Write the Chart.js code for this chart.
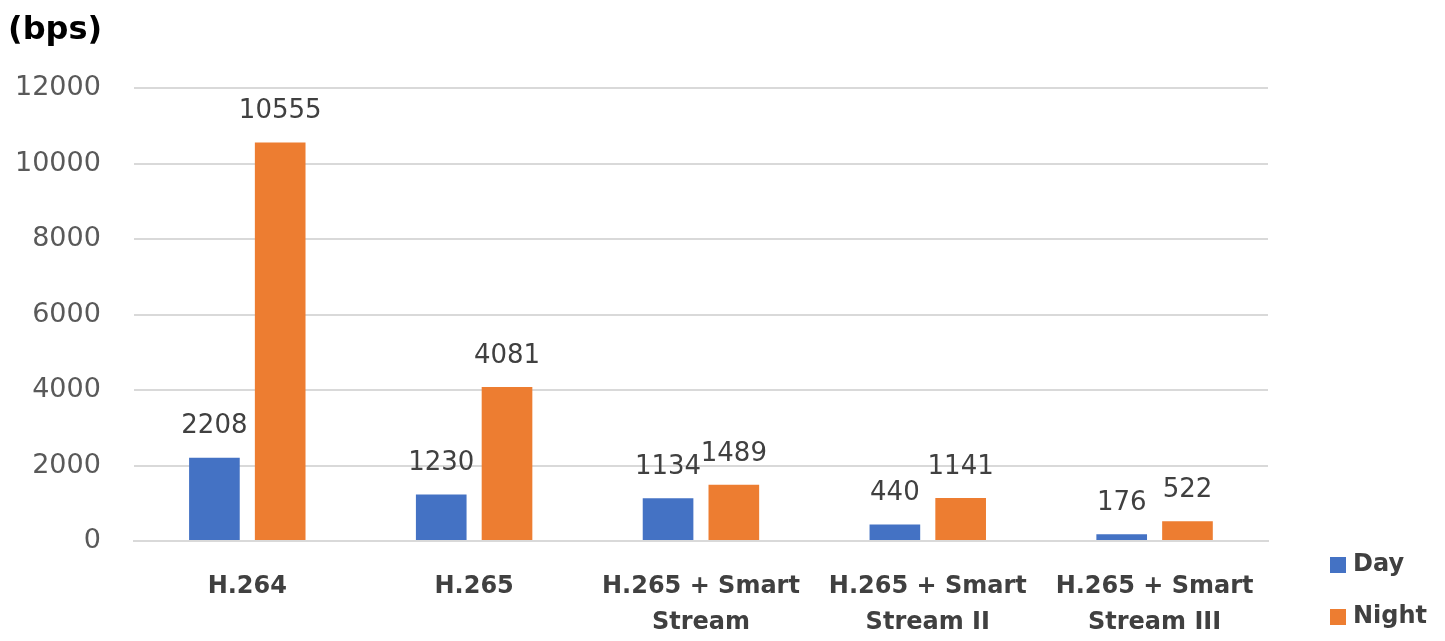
<!DOCTYPE html>
<html>
<head>
<meta charset="utf-8">
<script src="https://cdn.jsdelivr.net/npm/chart.js@4/dist/chart.umd.min.js"></script>
<style>
  html, body { margin: 0; padding: 0; background: #fff; }
  #wrap { width: 1445px; height: 641px; position: relative; }
</style>
</head>
<body>
<div id="wrap"><canvas id="bitrateChart"></canvas></div>
<script>
// bitrate of each codec, day vs night
const categories = ['H.264', 'H.265', ['H.265 + Smart', 'Stream'], ['H.265 + Smart', 'Stream II'], ['H.265 + Smart', 'Stream III']];
const dayValues = [2208, 1230, 1134, 440, 176];
const nightValues = [10555, 4081, 1489, 1141, 522];
const seriesNames = ['Day', 'Night'];
const unitLabel = '(bps)';
const yMin = 0, yMax = 12000, yStep = 2000;

const FONT = "'DejaVu Sans', sans-serif";

// value labels above each bar
const valueLabels = {
    id: 'valueLabels',
    afterDatasetsDraw(chart) {
        const ctx = chart.ctx;
        ctx.save();
        ctx.font = '26px ' + FONT;
        ctx.fillStyle = '#404040';
        ctx.textAlign = 'center';
        ctx.textBaseline = 'bottom';
        chart.data.datasets.forEach((ds, i) => {
            chart.getDatasetMeta(i).data.forEach((bar, j) => {
                ctx.fillText(ds.data[j], bar.x, bar.y - 18);
            });
        });
        ctx.restore();
    }
};

// unit text top left + legend in the bottom right corner
const extras = {
    id: 'extras',
    afterDraw(chart) {
        const ctx = chart.ctx;
        ctx.save();
        ctx.font = 'bold 32px ' + FONT;
        ctx.fillStyle = '#000';
        ctx.textBaseline = 'middle';
        ctx.fillText(unitLabel, 8, 31);

        ctx.font = 'bold 24px ' + FONT;
        chart.data.datasets.forEach((ds, i) => {
            const y = 565 + i * 52;
            ctx.fillStyle = ds.backgroundColor;
            ctx.fillRect(1330, y - 8, 16, 16);
            ctx.fillStyle = '#404040';
            ctx.fillText(ds.label, 1353, y);
        });
        ctx.restore();
    }
};

new Chart(document.getElementById('bitrateChart'), {
    type: 'bar',
    data: {
        labels: categories,
        datasets: [
            {
                label: seriesNames[0],
                data: dayValues,
                backgroundColor: '#4472C4'
            },
            {
                label: seriesNames[1],
                data: nightValues,
                backgroundColor: '#ED7D31'
            }
        ]
    },
    options: {
        responsive: true,
        maintainAspectRatio: false,
        animation: false,
        layout: {
            padding: { left: -18, right: 177, top: 88, bottom: 0 }
        },
        datasets: {
            bar: { categoryPercentage: 0.58, barPercentage: 0.77 }
        },
        plugins: {
            legend: { display: false },
            tooltip: { enabled: false }
        },
        scales: {
            x: {
                grid: { display: false },
                border: { display: true, color: '#d9d9d9', width: 2 },
                afterFit: (scale) => { scale.height = 100; },
                ticks: {
                    color: '#404040',
                    padding: 20,
                    maxRotation: 0,
                    font: { family: FONT, size: 24, weight: 'bold', lineHeight: 1.5 }
                }
            },
            y: {
                min: yMin,
                max: yMax,
                grid: { color: '#d9d9d9', lineWidth: 2, drawTicks: false },
                border: { display: false },
                ticks: {
                    stepSize: yStep,
                    color: '#595959',
                    padding: 33,
                    font: { family: FONT, size: 27 },
                    callback: (v) => String(v)
                }
            }
        }
    },
    plugins: [valueLabels, extras]
});
</script>
</body>
</html>
